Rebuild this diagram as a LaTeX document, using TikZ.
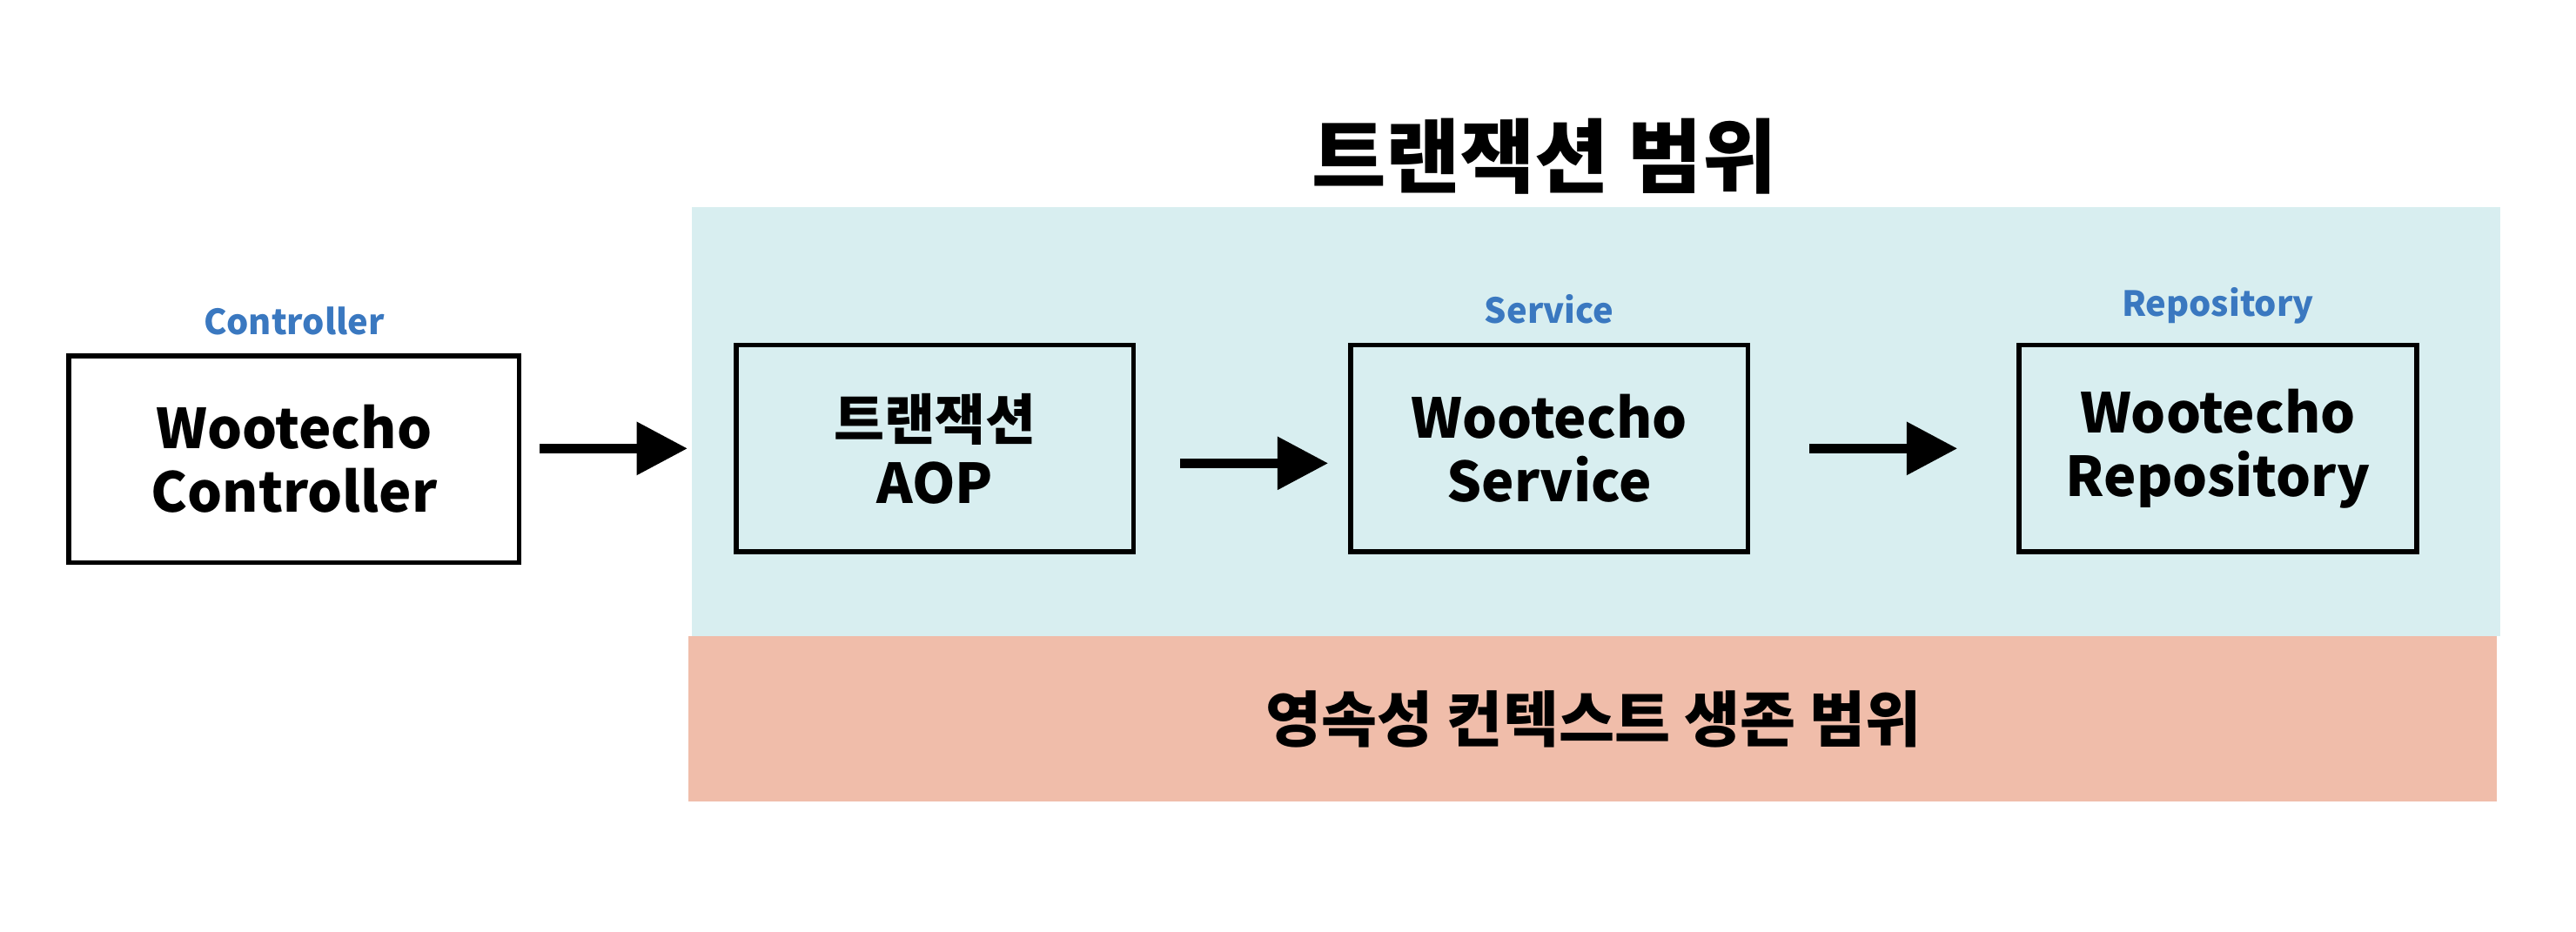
\documentclass[tikz,border=0pt]{standalone}
\usepackage{fontspec}
\setmainfont{Noto Sans CJK KR}
\usetikzlibrary{arrows.meta,positioning}

\definecolor{scopeblue}{HTML}{D8EEF0}
\definecolor{scopesalmon}{HTML}{F0BDAA}
\definecolor{labelblue}{HTML}{3A78C0}

\tikzset{
  layer/.style={draw=none, minimum width=#1},
  comp/.style={draw, line width=1.7pt, minimum width=4.84cm, minimum height=2.52cm,
    align=center, font=\fontsize{19}{22}\selectfont\bfseries},
  tag/.style={text=labelblue, font=\fontsize{12}{14}\selectfont\bfseries},
  flow/.style={line width=3.4pt, -{Triangle[length=0.62cm,width=0.62cm]}}
}

\begin{document}
\begin{tikzpicture}
\useasboundingbox (0,0) rectangle (31.36,11.34);
% scope areas
\fill[scopeblue] (8.42,3.6) rectangle (30.44,8.82);
\fill[scopesalmon] (8.38,1.58) rectangle (30.40,3.6);
\node[font=\fontsize{28}{32}\selectfont\bfseries] (title) at (18.8,9.44) {트랜잭션 범위};
\node[font=\fontsize{21}{24}\selectfont\bfseries] (persist) at (19.4,2.58) {영속성 컨텍스트 생존 범위};

% components
\node[comp, minimum width=5.48cm] (ctrl) at (3.58,5.75) {Wootecho\\Controller};
\node[comp] (aop) at (11.38,5.88) {트랜잭션\\AOP};
\node[comp] (svc) at (18.86,5.88) {Wootecho\\Service};
\node[comp] (repo) at (27.0,5.88) {Wootecho\\Repository};

% labels
\node[tag, above=0.1cm of ctrl] {Controller};
\node[tag, above=0.1cm of svc] {Service};
\node[tag, above=0.1cm of repo] {Repository};

% flow
\draw[flow, shorten <=0.22cm, shorten >=0.56cm] (ctrl.east |- aop.center) -- (aop.west);
\draw[flow, shorten <=0.54cm, shorten >=0.24cm] ([yshift=-0.18cm]aop.east) -- ([yshift=-0.18cm]svc.west);
\draw[flow, shorten <=0.72cm, shorten >=0.72cm] (svc.east) -- (repo.west);
\end{tikzpicture}
\end{document}
